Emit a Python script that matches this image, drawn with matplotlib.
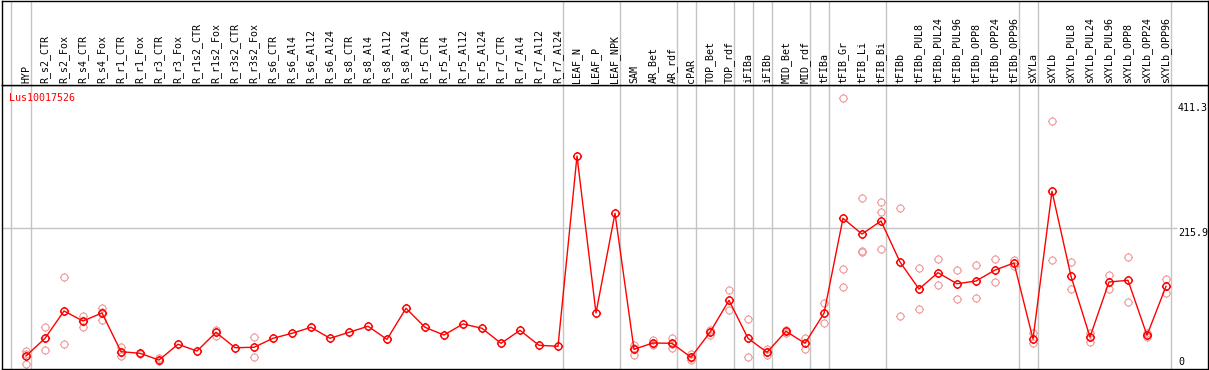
import numpy as np
import matplotlib
matplotlib.use("Agg")
import matplotlib.pyplot as plt
from matplotlib.path import Path
from matplotlib.transforms import blended_transform_factory

# ---------------- data ----------------
gene = "Lus10017526"
categories = ["HYP", "R_s2_CTR", "R_s2_Fox", "R_s4_CTR", "R_s4_Fox", "R_r1_CTR", "R_r1_Fox",
              "R_r3_CTR", "R_r3_Fox", "R_r1s2_CTR", "R_r1s2_Fox", "R_r3s2_CTR", "R_r3s2_Fox",
              "R_s6_CTR", "R_s6_Al4", "R_s6_Al12", "R_s6_Al24", "R_s8_CTR", "R_s8_Al4",
              "R_s8_Al12", "R_s8_Al24", "R_r5_CTR", "R_r5_Al4", "R_r5_Al12", "R_r5_Al24",
              "R_r7_CTR", "R_r7_Al4", "R_r7_Al12", "R_r7_Al24", "LEAF_N", "LEAF_P", "LEAF_NPK",
              "SAM", "AR_Bet", "AR_rdf", "cPAR", "TOP_Bet", "TOP_rdf", "iFIBa", "iFIBb",
              "MID_Bet", "MID_rdf", "tFIBa", "tFIB_Gr", "tFIB_Li", "tFIB_Bi", "tFIBb",
              "tFIBb_PUL8", "tFIBb_PUL24", "tFIBb_PUL96", "tFIBb_OPP8", "tFIBb_OPP24",
              "tFIBb_OPP96", "sXYLa", "sXYLb", "sXYLb_PUL8", "sXYLb_PUL24", "sXYLb_PUL96",
              "sXYLb_OPP8", "sXYLb_OPP24", "sXYLb_OPP96"]

means = [17.3, 44.8, 87.3, 71.7, 84.2, 24, 21.5, 11, 35.5, 25,
         54.1, 30.2, 30.8, 44.8, 52.6, 61.9, 44.8, 54.1, 63.5, 43.2,
         91.5, 61.9, 49.9, 67.1, 60.4, 37, 57.2, 33.9, 32.4, 328.4,
         84.2, 239.3, 27.7, 37.5, 37, 15.2, 54.1, 103.9, 44.8, 23,
         55.7, 37, 83.7, 231.5, 207, 227.3, 163.5, 121.5, 146.9, 129.7,
         133.9, 151, 161.9, 43.7, 273.5, 141.3, 46.8, 132.4, 135, 49.5,
         125.7]

nan = np.nan
rep1 = [25, 61.9, 139.7, 79.5, 92.4, 30.8, 22.5, 13.7, nan, nan,
        57.7, nan, 47.3, nan, nan, nan, nan, nan, nan, nan,
        nan, nan, nan, nan, nan, nan, nan, nan, nan, nan,
        nan, nan, 34.4, 42.2, 44.8, 20.4, 57.7, 119.5, 74.4, 27.7,
        58, 44.8, 99.3, 418.2, 262.6, 256.4, 247, 153.7, 167.7, 150.6,
        158.8, 167.7, 166.6, 52.6, 382.4, 163.5, 52.6, 143.3, 170.8, 52.6,
        136.6]
rep2 = [4.3, 26.6, 35.9, 62.9, 73.3, 17.7, 20.5, 9, nan, nan,
        48.4, nan, 15.2, nan, nan, nan, nan, nan, nan, nan,
        nan, nan, nan, nan, nan, nan, nan, nan, nan, nan,
        nan, nan, 18.8, 34.4, 30.2, 11, 49.9, 88.8, 15.2, 18.4,
        53, 28.6, 68.1, 152.1, 178.6, 240.8, 79.5, 90.4, 127.7, 106,
        107, 132.4, 157.7, 37, 166.1, 121, 39.5, 122, 100.8, 46.4,
        114.8]
rep3 = [20, 46, nan, 72, 86, 24, nan, nan, nan, nan,
        nan, nan, nan, nan, nan, nan, nan, nan, nan, nan,
        nan, nan, nan, nan, nan, nan, nan, nan, nan, nan,
        nan, nan, 30, 36, 36, 14, 55, nan, nan, 23,
        nan, nan, nan, 124.1, 180, 183.3, nan, nan, nan, nan,
        nan, nan, nan, nan, nan, nan, nan, nan, nan, nan,
        nan]

# last category of each sample group (separator drawn after it)
group_ends = ["HYP", "R_r7_Al24", "LEAF_NPK", "AR_rdf", "cPAR", "TOP_rdf", "iFIBa", "iFIBb",
              "MID_rdf", "tFIBa", "tFIB_Bi", "tFIBb_OPP96", "sXYLa", "sXYLb_OPP96"]
scale_labels = [411.3, 215.9, 0]

# ---------------- layout ----------------
W, H = 1209, 370
fig = plt.figure(figsize=(W / 100, H / 100), dpi=100)
fig.patch.set_facecolor("white")

def rect(l, t, r, b):
    return [l / W, (H - b) / H, (r - l) / W, (b - t) / H]

x0_px, step_px = 26.0, 19.0
ax_l, ax_r = 1.5, 1207.5
xlim = ((ax_l - x0_px) / step_px, (ax_r - x0_px) / step_px)

y0_px, k = 367.1, 0.6428
ax_t, ax_b = 85.0, 368.5
ylim = ((y0_px - ax_b) / k, (y0_px - ax_t) / k)

ax = fig.add_axes(rect(ax_l, ax_t, ax_r, ax_b))
hax = fig.add_axes(rect(ax_l, 0.5, ax_r, ax_t))
for a in (ax, hax):
    a.set_xlim(*xlim)
    a.set_xticks([])
    a.set_yticks([])
    for s in a.spines.values():
        s.set_color("black")
        s.set_linewidth(1.0)
ax.set_ylim(*ylim)
hax.set_ylim(0, 1)

mono = "DejaVu Sans Mono"
fs = 7.2
x = np.arange(len(categories))
off = 4.5 / step_px

# separators
seps = [-1] + [categories.index(c) for c in group_ends]
for s in seps:
    for a in (ax, hax):
        a.axvline(s + off - (0.8 / step_px if s == -1 else 0), color="#c4c4c4", lw=1.0, zorder=0)

# horizontal grid line at the middle scale value
grid_right = (1176 - ax_l) / (ax_r - ax_l)
ax.axhline(scale_labels[1], xmin=0, xmax=grid_right, color="#c4c4c4", lw=1.0, zorder=0)

# header labels
tr = blended_transform_factory(hax.transData, hax.transAxes)
for i, c in enumerate(categories):
    hax.text(i, 2.5 / 85, c, rotation=90, ha="center", va="bottom", transform=tr,
             fontsize=fs, family=mono, color="black")

# marker: circle with four short ticks
circ = Path.circle((0, 0), 1.0)
tick_len = 1.3
verts = list(circ.vertices)
codes = list(circ.codes)
for dx, dy in [(1, 0), (-1, 0), (0, 1), (0, -1)]:
    verts += [(dx * 1.0, dy * 1.0), (dx * tick_len, dy * tick_len)]
    codes += [Path.MOVETO, Path.LINETO]
tick_circle = Path(verts, codes)

reps = np.array([rep1, rep2, rep3], dtype=float)
rep_color = "#ee9a9a"
for r in reps:
    ax.plot(x, r, linestyle="none", marker=tick_circle, markersize=6.6,
            markerfacecolor="none", markeredgecolor=rep_color, markeredgewidth=0.8, zorder=2)

ax.plot(x, means, color="#ff0000", lw=1.0, zorder=3)
ax.plot(x, means, linestyle="none", marker=tick_circle, markersize=6.6,
        markerfacecolor="none", markeredgecolor="#ff0000", markeredgewidth=1.05, zorder=4)

# gene name
ax.text((9 - ax_l) / (ax_r - ax_l), 1 - (97.5 - ax_t) / (ax_b - ax_t), gene,
        transform=ax.transAxes, ha="left", va="center", fontsize=fs, family=mono, color="#ff0000")

# scale labels
lab_x = (1178 - ax_l) / (ax_r - ax_l)
trl = blended_transform_factory(ax.transAxes, ax.transData)
for v in scale_labels:
    txt = f"{v:g}"
    if v == 0:
        ax.text(lab_x, v, txt, transform=trl, ha="left", va="bottom", fontsize=fs, family=mono)
    else:
        ax.text(lab_x, v, txt, transform=trl, ha="left", va="top", fontsize=fs, family=mono)

fig.savefig("out.png", dpi=100, facecolor="white")
